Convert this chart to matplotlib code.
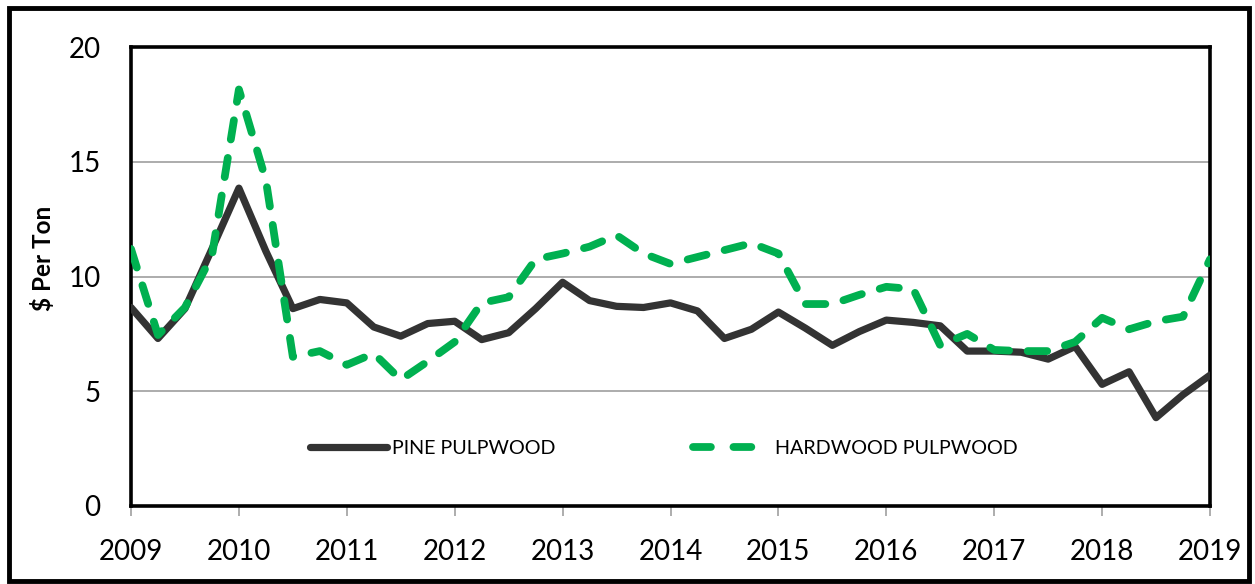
import matplotlib
matplotlib.use("Agg")
import matplotlib.pyplot as plt
from matplotlib.patches import Rectangle
from matplotlib.lines import Line2D
import numpy as np

plt.rcParams['font.family'] = ['Lato', 'DejaVu Sans']

quarters = [2009 + i / 4 for i in range(41)]
pine = [8.65, 7.3, 8.6, 11.2, 13.85, 11.1, 8.6, 9.0, 8.85, 7.8, 7.4, 7.95, 8.05,
        7.25, 7.55, 8.6, 9.75, 8.95, 8.7, 8.65, 8.85, 8.5, 7.3, 7.7, 8.45,
        7.75, 7.0, 7.6, 8.1, 8.0, 7.85, 6.75, 6.75, 6.7, 6.4, 6.95, 5.3,
        5.85, 3.85, 4.85, 5.7]
hardwood = [11.2, 7.45, 8.65, 10.9, 18.15, 14.2, 6.5, 6.75, 6.15, 6.65, 5.5, 6.3,
            7.15, 8.85, 9.1, 10.75, 11.0, 11.3, 11.8, 11.0, 10.55, 10.85, 11.15,
            11.45, 11.0, 8.8, 8.8, 9.2, 9.55, 9.45, 7.0, 7.5, 6.8, 6.75, 6.75,
            7.15, 8.2, 7.7, 8.05, 8.25, 10.75]
year_ticks = list(range(2009, 2020))
y_ticks = [0, 5, 10, 15, 20]
labels = ["PINE PULPWOOD", "HARDWOOD PULPWOOD"]

W, H = 1255, 584
fig = plt.figure(figsize=(W / 100, H / 100), dpi=100)
ax = fig.add_axes([131 / W, 1 - 506 / H, (1210 - 131) / W, (506 - 47) / H])

pl, = ax.plot(quarters, pine, color='#333333', lw=5.2, solid_joinstyle='round',
              solid_capstyle='round', label=labels[0], zorder=3)
ln, = ax.plot(quarters, hardwood, color='#00B050', lw=5.6, dash_capstyle='round',
              dash_joinstyle='round', label=labels[1], zorder=4)
ln.set_dashes((2.5, 2.4))

ax.set_xlim(2009, 2019)
ax.set_ylim(0, 20)
ax.set_yticks(y_ticks)
ax.set_xticks(year_ticks)
ax.set_xticklabels([str(y) for y in year_ticks])
ax.tick_params(axis='y', length=0, pad=22, labelsize=20)
ax.tick_params(axis='x', length=7, width=1.2, color='#A0A0A0', pad=17, labelsize=20, direction='out')
for lab in ax.get_yticklabels() + ax.get_xticklabels():
    lab.set_color('black')

for v in [5, 10, 15]:
    ax.axhline(v, color='#A6A6A6', lw=1.3, zorder=1)

for s in ax.spines.values():
    s.set_linewidth(2.6)
    s.set_color('black')

fig.text(43 / W, 1 - 258 / H, "$ Per Ton", rotation=90, ha='center', va='center',
         fontsize=17.5, fontweight='bold')

hw_proxy = Line2D([], [], color='#00B050', lw=5.6, dash_capstyle='round',
                  dashes=(2.3, 2.9))
leg = ax.legend([pl, hw_proxy], labels, ncol=2, loc='center',
                bbox_to_anchor=(0.494, 0.126), frameon=False,
                fontsize=14.2, handlelength=3.9, handletextpad=0.25, columnspacing=7.0)

# outer border
fig.patches.append(Rectangle((9 / W, 3 / H), (1249 - 9) / W, (576 - 3) / H,
                             transform=fig.transFigure, fill=False, edgecolor='black',
                             lw=3.5, zorder=0))

fig.savefig("out.png", dpi=100)
